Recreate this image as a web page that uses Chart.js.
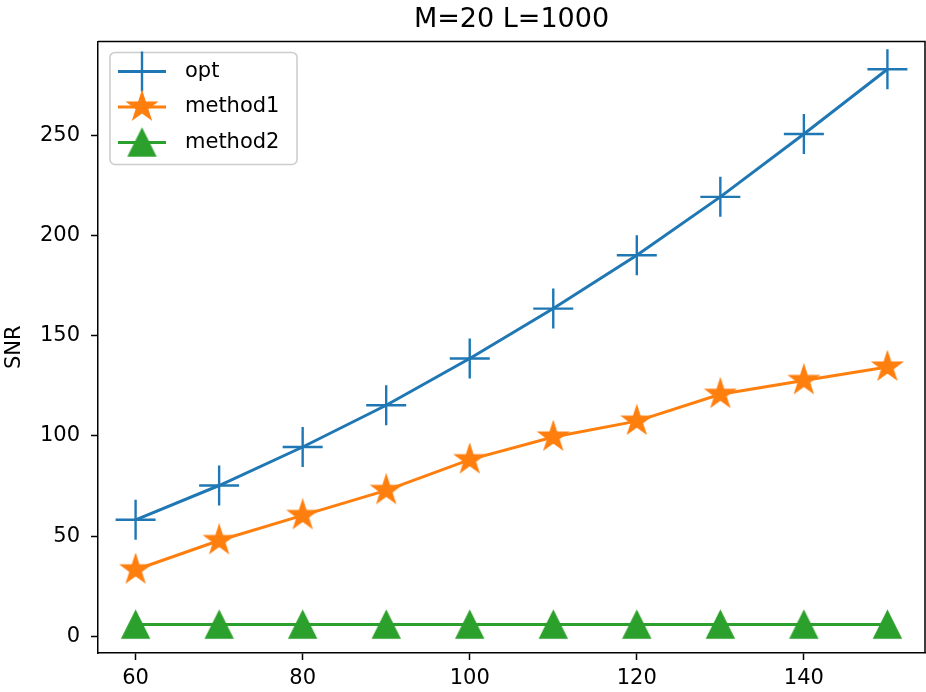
<!DOCTYPE html>
<html>
<head>
<meta charset="utf-8">
<script src="https://cdn.jsdelivr.net/npm/chart.js@4.4.0/dist/chart.umd.min.js"></script>
<style>
  body { margin: 0; background: #fff; }
  canvas { display: block; }
</style>
</head>
<body>
<canvas id="snrChart" width="926" height="692"></canvas>
<script>
// data
const xValues = [60, 70, 80, 90, 100, 110, 120, 130, 140, 150];
const optValues = [58.2, 75.3, 94.5, 115.3, 138.6, 163.5, 190.1, 219.2, 250.5, 282.8];
const method1Values = [33.3, 47.9, 60.4, 72.9, 88.2, 99.5, 107.4, 120.8, 127.7, 134.4];
const method2Values = [6.0, 6.0, 6.0, 6.0, 6.0, 6.0, 6.0, 6.0, 6.0, 6.0];
const xTicks = [60, 80, 100, 120, 140];
const yTicks = [0, 50, 100, 150, 200, 250];

const BLUE = '#1f77b4';
const ORANGE = '#ff7f0e';
const GREEN = '#2ca02c';
const FONT = 'DejaVu Sans';

// filled star marker, like matplotlib '*'
function makeStar(color, r) {
  const c = document.createElement('canvas');
  c.width = c.height = Math.ceil(r * 2 + 4);
  const ctx = c.getContext('2d');
  const cx = c.width / 2, cy = c.height / 2;
  const inner = r * 0.381966;
  ctx.beginPath();
  for (let i = 0; i < 10; i++) {
    const rad = i % 2 === 0 ? r : inner;
    const a = -Math.PI / 2 + i * Math.PI / 5;
    const px = cx + rad * Math.cos(a), py = cy + rad * Math.sin(a);
    if (i === 0) ctx.moveTo(px, py); else ctx.lineTo(px, py);
  }
  ctx.closePath();
  ctx.fillStyle = color;
  ctx.strokeStyle = color;
  ctx.lineWidth = 1.5;
  ctx.fill();
  ctx.stroke();
  return c;
}

// filled triangle marker, like matplotlib '^'
function makeTriangle(color, w, h) {
  const c = document.createElement('canvas');
  c.width = Math.ceil(w * 2 + 4);
  c.height = Math.ceil(h * 2 + 4);
  const ctx = c.getContext('2d');
  const cx = c.width / 2, cy = c.height / 2;
  ctx.beginPath();
  ctx.moveTo(cx, cy - h);
  ctx.lineTo(cx - w, cy + h);
  ctx.lineTo(cx + w, cy + h);
  ctx.closePath();
  ctx.fillStyle = color;
  ctx.strokeStyle = color;
  ctx.lineWidth = 1.5;
  ctx.fill();
  ctx.stroke();
  return c;
}

const starImg = makeStar(ORANGE, 15);
const triImg = makeTriangle(GREEN, 13.5, 13.5);

function toPoints(ys) {
  return xValues.map((x, i) => ({ x: x, y: ys[i] }));
}

// top and right spines
const frameBox = {
  id: 'frameBox',
  afterDatasetsDraw(chart) {
    const a = chart.chartArea;
    const ctx = chart.ctx;
    ctx.save();
    ctx.strokeStyle = '#000';
    ctx.lineWidth = 1.5;
    ctx.beginPath();
    ctx.moveTo(a.left, a.top);
    ctx.lineTo(a.right, a.top);
    ctx.lineTo(a.right, a.bottom);
    ctx.stroke();
    ctx.restore();
  }
};

// matplotlib style legend box in the upper left of the axes
const insideLegend = {
  id: 'insideLegend',
  afterDatasetsDraw(chart) {
    const a = chart.chartArea;
    const ctx = chart.ctx;
    const left = a.left + 12, top = a.top + 11;
    const w = 187, h = 112;
    ctx.save();
    ctx.beginPath();
    ctx.roundRect(left, top, w, h, 5);
    ctx.fillStyle = 'rgba(255,255,255,0.8)';
    ctx.fill();
    ctx.strokeStyle = '#cccccc';
    ctx.lineWidth = 1.5;
    ctx.stroke();

    chart.data.datasets.forEach((ds, i) => {
      const y = top + 19 + i * 35.5;
      ctx.strokeStyle = ds.borderColor;
      ctx.lineWidth = ds.borderWidth;
      ctx.beginPath();
      ctx.moveTo(left + 8, y);
      ctx.lineTo(left + 56, y);
      ctx.stroke();
      ctx.strokeStyle = ds.pointBorderColor;
      ctx.fillStyle = ds.pointBorderColor;
      ctx.lineWidth = ds.pointBorderWidth;
      Chart.helpers.drawPoint(ctx, {
        pointStyle: ds.pointStyle, radius: ds.pointRadius, rotation: 0, borderWidth: ds.pointBorderWidth
      }, left + 32, y);
      ctx.fillStyle = '#000';
      ctx.font = '21px "' + FONT + '"';
      ctx.textBaseline = 'middle';
      ctx.textAlign = 'left';
      ctx.fillText(ds.label, left + 75, y);
    });
    ctx.restore();
  }
};

new Chart(document.getElementById('snrChart').getContext('2d'), {
  type: 'line',
  data: {
    datasets: [
      {
        label: 'opt',
        data: toPoints(optValues),
        borderColor: BLUE,
        borderWidth: 3,
        pointStyle: 'cross',
        pointRadius: 20,
        pointBorderColor: BLUE,
        pointBorderWidth: 2.4,
        order: 3
      },
      {
        label: 'method1',
        data: toPoints(method1Values),
        borderColor: ORANGE,
        borderWidth: 3,
        pointStyle: starImg,
        pointRadius: 15,
        pointBorderColor: ORANGE,
        pointBorderWidth: 1.5,
        order: 2
      },
      {
        label: 'method2',
        data: toPoints(method2Values),
        borderColor: GREEN,
        borderWidth: 3,
        pointStyle: triImg,
        pointRadius: 14,
        pointBorderColor: GREEN,
        pointBorderWidth: 1.5,
        order: 1
      }
    ]
  },
  options: {
    responsive: false,
    animation: false,
    layout: { autoPadding: false, padding: { left: 0, right: 1, top: 0, bottom: 0 } },
    plugins: {
      legend: { display: false },
      tooltip: { enabled: false },
      title: {
        display: true,
        fullSize: false,
        text: 'M=20 L=1000',
        color: '#000',
        font: { family: FONT, size: 27, weight: 'normal' },
        padding: { top: 4, bottom: 5 }
      }
    },
    scales: {
      x: {
        type: 'linear',
        min: 55.5,
        max: 154.5,
        afterBuildTicks: (axis) => { axis.ticks = xTicks.map(v => ({ value: v })); },
        afterFit: (axis) => { axis.height = 39; axis.paddingLeft = 0; axis.paddingRight = 0; },
        grid: { display: true, drawOnChartArea: false, drawTicks: true, tickLength: 7, tickWidth: 1.5, tickColor: '#000' },
        border: { display: true, color: '#000', width: 1.5 },
        ticks: { color: '#000', font: { family: FONT, size: 21 }, padding: 6, maxRotation: 0 }
      },
      y: {
        type: 'linear',
        min: -8.2,
        max: 296.7,
        afterBuildTicks: (axis) => { axis.ticks = yTicks.map(v => ({ value: v })); },
        afterFit: (axis) => { axis.width = 98; axis.paddingTop = 0; axis.paddingBottom = 0; },
        grid: { display: true, drawOnChartArea: false, drawTicks: true, tickLength: 7, tickWidth: 1.5, tickColor: '#000' },
        border: { display: true, color: '#000', width: 1.5 },
        ticks: { color: '#000', font: { family: FONT, size: 21 }, padding: 11 },
        title: {
          display: true,
          text: 'SNR',
          color: '#000',
          font: { family: FONT, size: 21 },
          padding: { top: 2, bottom: 0 }
        }
      }
    }
  },
  plugins: [frameBox, insideLegend]
});
</script>
</body>
</html>
